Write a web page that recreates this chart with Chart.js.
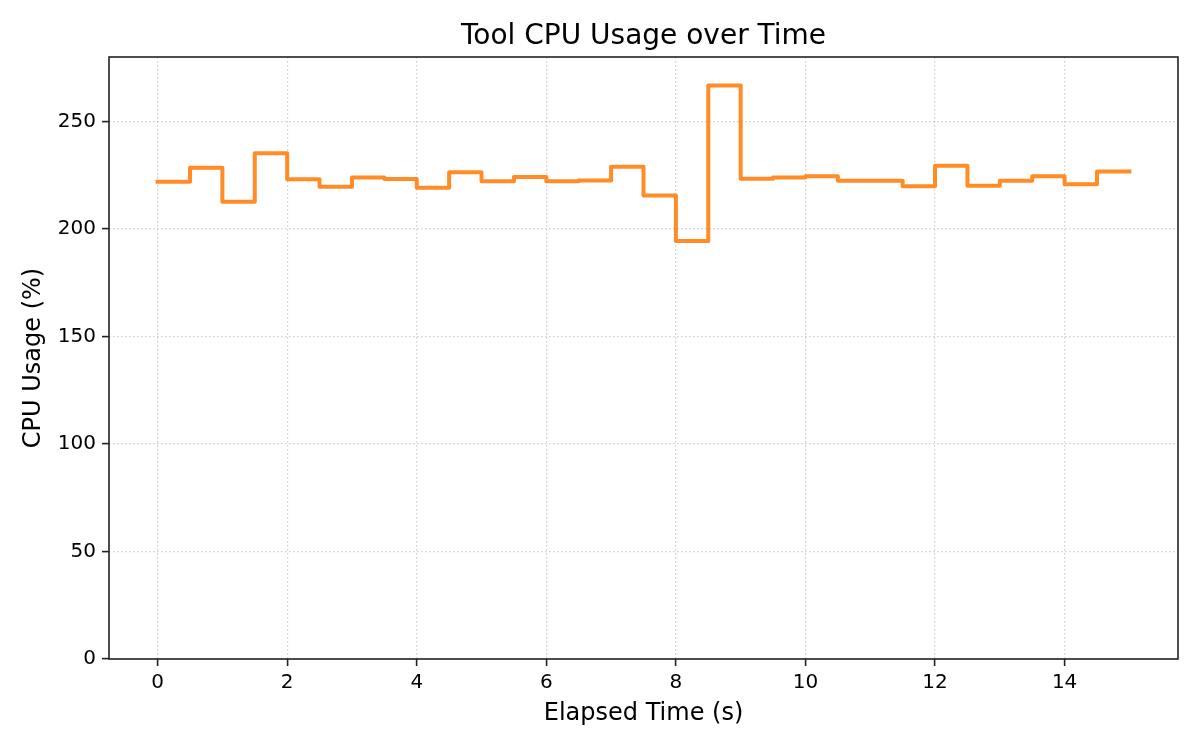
<!DOCTYPE html>
<html>
<head>
<meta charset="utf-8">
<title>Tool CPU Usage over Time</title>
<script src="https://cdn.jsdelivr.net/npm/chart.js@4"></script>
<style>
  html, body { margin: 0; padding: 0; background: #fff; }
  #wrap { width: 1200px; height: 750px; }
</style>
</head>
<body>
<div id="wrap"><canvas id="cpu-chart"></canvas></div>
<script>
// elapsed time (s) of each sample
const elapsed = [
  0, 0.5, 1, 1.5, 2, 2.5, 3, 3.5, 4, 4.5,
  5, 5.5, 6, 6.5, 7, 7.5, 8, 8.5, 9, 9.5,
  10, 10.5, 11, 11.5, 12, 12.5, 13, 13.5, 14, 14.5, 15,
];
// tool CPU usage (%)
const cpuUsage = [
  222.0, 228.5, 212.7, 235.2, 223.1, 219.7, 223.9, 223.3, 219.2, 226.4,
  222.2, 224.2, 222.2, 222.6, 229.0, 215.6, 194.4, 266.8, 223.4, 223.9,
  224.5, 222.5, 222.5, 219.9, 229.4, 220.1, 222.5, 224.5, 220.8, 226.7, 226.7,
];
const xLimits = [-0.75, 15.75];
const yLimits = [0, 280];
const chartTitle = "Tool CPU Usage over Time";

Chart.defaults.font.family = "'DejaVu Sans', sans-serif";
Chart.defaults.color = "#000";

const INK = "#222";
const GRID = "rgba(176,176,176,0.65)";

// spines all round + title centred over the plot area (matplotlib style)
const frame = {
  id: "frame",
  afterDraw(chart) {
    const { ctx, chartArea: a } = chart;
    ctx.save();
    ctx.strokeStyle = INK;
    ctx.lineWidth = 1.6;
    ctx.strokeRect(a.left, a.top, a.right - a.left, a.bottom - a.top);
    ctx.fillStyle = "#000";
    ctx.font = "28px 'DejaVu Sans', sans-serif";
    ctx.textAlign = "center";
    ctx.textBaseline = "alphabetic";
    ctx.fillText(chartTitle, (a.left + a.right) / 2, 44);
    ctx.restore();
  },
};

const points = elapsed.map((x, i) => ({ x, y: cpuUsage[i] }));

new Chart(document.getElementById("cpu-chart"), {
  type: "line",
  data: {
    datasets: [
      {
        label: "CPU Usage",
        data: points,
        stepped: "before",
        borderColor: "rgba(255,127,14,0.9)",
        borderWidth: 4,
        borderJoinStyle: "round",
        borderCapStyle: "square",
        pointRadius: 0,
        fill: false,
      },
    ],
  },
  options: {
    responsive: true,
    maintainAspectRatio: false,
    animation: false,
    layout: { padding: { left: 0, right: 22, top: 57, bottom: 0 } },
    plugins: {
      legend: { display: false },
      tooltip: { enabled: false },
      title: { display: false },
    },
    scales: {
      x: {
        type: "linear",
        min: xLimits[0],
        max: xLimits[1],
        afterFit: (s) => { s.height = 91; },
        ticks: { stepSize: 2, includeBounds: false, padding: 5, font: { size: 20 }, color: "#000" },
        grid: {
          color: GRID,
          lineWidth: 1.2,
          tickLength: 7,
          tickWidth: 1.6,
          tickColor: INK,
          tickBorderDash: [],
        },
        border: { display: false, dash: [1.5, 2.5] },
        title: {
          display: true,
          text: "Elapsed Time (s)",
          font: { size: 24 },
          color: "#000",
          padding: { top: 0, bottom: 22 },
        },
      },
      y: {
        min: yLimits[0],
        max: yLimits[1],
        afterFit: (s) => { s.width = 109; },
        ticks: { stepSize: 50, includeBounds: false, padding: 6, font: { size: 20 }, color: "#000" },
        grid: {
          color: GRID,
          lineWidth: 1.2,
          tickLength: 7,
          tickWidth: 1.6,
          tickColor: INK,
          tickBorderDash: [],
        },
        border: { display: false, dash: [1.5, 2.5] },
        title: {
          display: true,
          text: "CPU Usage (%)",
          font: { size: 24 },
          color: "#000",
          padding: { top: 19, bottom: 0 },
        },
      },
    },
  },
  plugins: [frame],
});
</script>
</body>
</html>
